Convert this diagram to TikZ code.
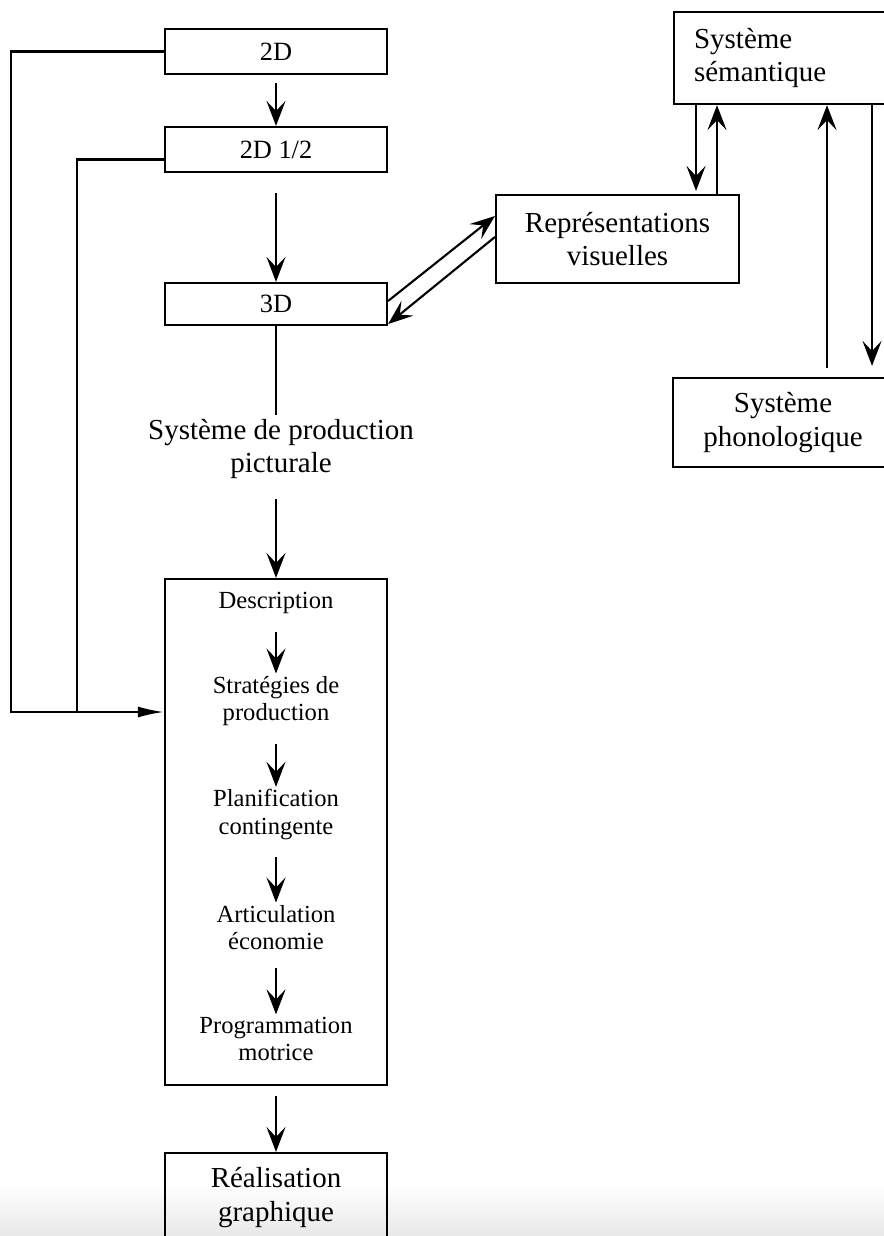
\documentclass[tikz,border=0pt]{standalone}
\usepackage{fontspec}
\setmainfont{Liberation Serif}
\usetikzlibrary{arrows.meta}

\begin{document}
\begin{tikzpicture}[line width=1.2pt,
  box/.style={draw, minimum width=4.44cm, align=center},
  lbl/.style={font=\fontsize{16.5}{19}\selectfont, align=center},
  lvl/.style={font=\fontsize{15}{18}\selectfont},
  step-txt/.style={font=\fontsize{14}{15.4}\selectfont, align=center, inner sep=1pt},
  arr/.style={-{Stealth[length=5mm,width=3.8mm,inset=2mm]}},
  fbarr/.style={-{Latex[length=5.2mm,width=2.2mm]}}]
\useasboundingbox (0,0) rectangle (17.68,-24.72);
\clip (0,0) rectangle (17.68,-24.72);
\shade[top color=white, bottom color=gray!18] (0,-23.7) rectangle (17.68,-24.72);

% levels of representation
\node[box, lvl, minimum height=0.9cm] (twoD) at (5.52,-1.03) {2D};
\node[box, lvl, minimum height=0.9cm] (twohalfD) at (5.52,-2.99) {2D 1/2};
\node[box, lvl, minimum height=0.84cm] (threeD) at (5.52,-6.08) {3D};
\node[lbl, inner sep=2pt] (sysprod) at (5.62,-8.98) {Système de production\\picturale};

% production system
\node[box, minimum height=10.12cm] (prodbox) at (5.52,-16.64) {};
\node[step-txt] (desc) at (5.52,-12.06) {Description};
\node[step-txt] (strat) at (5.52,-14.02) {Stratégies de\\production};
\node[step-txt] (plan) at (5.52,-16.29) {Planification\\contingente};
\node[step-txt] (artic) at (5.52,-18.55) {Articulation\\économie};
\node[step-txt] (progr) at (5.52,-20.78) {Programmation\\motrice};
\node[box, lbl, minimum height=1.78cm] (real) at (5.52,-23.95) {Réalisation\\graphique};

% right side
\node[box, lbl, minimum width=4.86cm, minimum height=1.76cm] (rep) at (12.35,-4.78) {Représentations\\visuelles};
\node[draw, lbl, align=left, anchor=north west, minimum height=1.84cm,
      text width=3.9cm, inner xsep=0.4cm] (sem) at (13.46,-0.22) {Système\\sémantique};
\node[box, lbl, minimum width=4.4cm, minimum height=1.78cm] (phon) at (15.66,-8.45) {Système\\phonologique};

% main flow
\draw[arr, shorten <=0.16cm] (twoD) -- (twohalfD);
\draw[arr, shorten <=0.4cm] (twohalfD) -- (threeD);
\draw (threeD.south) -- (threeD.south |- sysprod.north);
\draw[arr, shorten <=0.32cm] (sysprod.south -| prodbox.north) -- (prodbox.north);
\foreach \a/\b in {desc/strat, strat/plan, plan/artic, artic/progr}
  \draw[arr, shorten <=0.3cm] (\a) -- (\b);
\draw[arr, shorten <=0.2cm] (prodbox) -- (real);

% feedback from 2D and 2D 1/2
\coordinate (entry) at ([yshift=2.4cm]prodbox.west);
\draw[fbarr] (twoD.west) -- ++(-3.06,0) |- (entry);
\draw ([yshift=-0.2cm]twohalfD.west) -- ++(-1.74,0) coordinate (jn) -- (jn |- entry);

% 3D <-> visual representations
\draw[arr] ([yshift=0.06cm]threeD.east) -- ([yshift=0.46cm]rep.west);
\draw[arr] ([yshift=0.04cm]rep.west) -- ([yshift=0.04cm]threeD.south east);

% semantic system links
\coordinate (rdown) at ([xshift=1.57cm]rep.north);
\coordinate (rup) at ([xshift=1.99cm]rep.north);
\draw[arr] (rdown |- sem.south) -- ([yshift=0.06cm]rdown);
\draw[arr] (rup) -- (rup |- sem.south);
\coordinate (pup) at ([xshift=0.88cm]phon.north);
\coordinate (pdown) at ([xshift=1.78cm]phon.north);
\draw[arr] ([yshift=0.18cm]pup) -- (pup |- sem.south);
\draw[arr] (pdown |- sem.south) -- ([yshift=0.22cm]pdown);
\end{tikzpicture}
\end{document}
